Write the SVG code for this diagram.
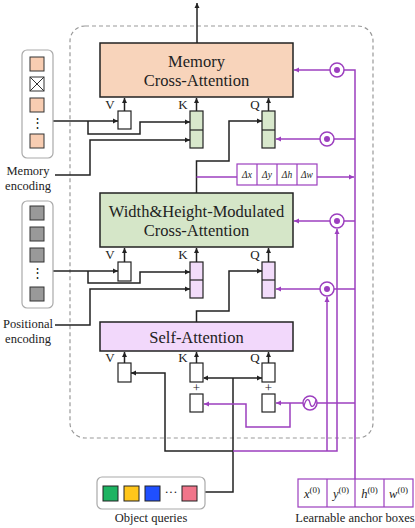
<svg xmlns="http://www.w3.org/2000/svg" width="415" height="528" viewBox="0 0 415 528" font-family="'Liberation Serif', 'Times New Roman', serif">
<defs>
<marker id="ab" markerWidth="6" markerHeight="6" refX="5" refY="3" orient="auto" markerUnits="userSpaceOnUse"><path d="M0,0.5 L5,3 L0,5.5 Z" fill="#222"/></marker>
<marker id="ap" markerWidth="6" markerHeight="6" refX="5" refY="3" orient="auto" markerUnits="userSpaceOnUse"><path d="M0,0.5 L5,3 L0,5.5 Z" fill="#9c3fbf"/></marker>
<marker id="abs" markerWidth="6" markerHeight="6" refX="1" refY="3" orient="auto" markerUnits="userSpaceOnUse"><path d="M5,0.5 L0,3 L5,5.5 Z" fill="#222"/></marker>
</defs>
<style>
text{font-family:'Liberation Serif','Times New Roman',serif;fill:#222}
.title{font-size:16.5px;text-anchor:middle}
.lbl{font-size:13px;text-anchor:middle}
.cap{font-size:12.5px;text-anchor:middle}
.d{font-size:9.5px;font-style:italic;text-anchor:middle}
.an{font-size:12.5px;font-style:italic;text-anchor:middle}
.bk{fill:none;stroke:#222;stroke-width:1.5}
.pp{fill:none;stroke:#9c3fbf;stroke-width:1.5}
.sm{fill:#fff;stroke:#222;stroke-width:1.2}
.cont{fill:#fff;stroke:#aaa;stroke-width:1.2}
</style>

<rect x="70" y="26" width="303" height="412" rx="15" fill="none" stroke="#999" stroke-width="1.2" stroke-dasharray="4,3"/>

<g id="connectors">
<line x1="197" y1="43" x2="197" y2="3" class="bk" marker-end="url(#ab)"/>
<line x1="124.5" y1="111" x2="124.5" y2="98" class="bk" marker-end="url(#ab)"/>
<line x1="196.5" y1="111" x2="196.5" y2="98" class="bk" marker-end="url(#ab)"/>
<line x1="268.5" y1="111" x2="268.5" y2="98" class="bk" marker-end="url(#ab)"/>
<path d="M53,121 H118" class="bk" marker-end="url(#ab)"/>
<path d="M88,121 V134 H140 V122 H190" class="bk" marker-end="url(#ab)"/>
<path d="M55,175 H90 V140 H190" class="bk" marker-end="url(#ab)"/>
<path d="M196.5,193 V161 H229 V121 H262" class="bk" marker-end="url(#ab)"/>
<line x1="124.5" y1="262" x2="124.5" y2="248" class="bk" marker-end="url(#ab)"/>
<line x1="196.5" y1="262" x2="196.5" y2="248" class="bk" marker-end="url(#ab)"/>
<line x1="268.5" y1="262" x2="268.5" y2="248" class="bk" marker-end="url(#ab)"/>
<path d="M53,271 H118" class="bk" marker-end="url(#ab)"/>
<path d="M88,271 V283 H140 V272 H190" class="bk" marker-end="url(#ab)"/>
<path d="M55,325 H90 V289 H190" class="bk" marker-end="url(#ab)"/>
<path d="M196.5,322 V311 H229 V271 H262" class="bk" marker-end="url(#ab)"/>
<line x1="124.5" y1="363" x2="124.5" y2="352" class="bk" marker-end="url(#ab)"/>
<line x1="196.5" y1="363" x2="196.5" y2="352" class="bk" marker-end="url(#ab)"/>
<line x1="268.5" y1="363" x2="268.5" y2="352" class="bk" marker-end="url(#ab)"/>
<path d="M204,378 H262" class="bk" marker-start="url(#abs)" marker-end="url(#ab)"/>
<path d="M205,492 H233 V378" class="bk"/>
<path d="M233,451 H165 V373 H131" class="bk" marker-end="url(#ab)"/>
<path d="M355,479 V70 H344" class="pp"/>
<line x1="330" y1="70" x2="294" y2="70" class="pp" marker-end="url(#ap)"/>
<path d="M355,139 H334" class="pp"/>
<line x1="320" y1="139" x2="276" y2="139" class="pp" marker-end="url(#ap)"/>
<path d="M355,221 H344" class="pp"/>
<line x1="330" y1="221" x2="294" y2="221" class="pp" marker-end="url(#ap)"/>
<path d="M355,289 H334" class="pp"/>
<line x1="320" y1="289" x2="276" y2="289" class="pp" marker-end="url(#ap)"/>
<path d="M196.5,177 H237" class="pp"/>
<line x1="317" y1="177" x2="354" y2="177" class="pp" marker-end="url(#ap)"/>
<path d="M233,451 H337 V229" class="pp" marker-end="url(#ap)"/>
<path d="M327,451 V297" class="pp" marker-end="url(#ap)"/>
<path d="M355,403 H317" class="pp"/>
<line x1="303" y1="403" x2="276" y2="403" class="pp" marker-end="url(#ap)"/>
<path d="M290,403 V427 H246 V404 H204" class="pp" marker-end="url(#ap)"/>
</g>

<g id="memory-encoding">
<rect x="22" y="50" width="31" height="108" rx="5" class="cont"/>
<rect x="30" y="57" width="14" height="14" fill="#f8cdb2" stroke="#333" stroke-width="1"/>
<rect x="30" y="77" width="14" height="14" fill="#fff" stroke="#333" stroke-width="1"/>
<path d="M30,77 L44,91 M44,77 L30,91" stroke="#333" stroke-width="1"/>
<rect x="30" y="98" width="14" height="14" fill="#f8cdb2" stroke="#333" stroke-width="1"/>
<text x="37" y="127" class="lbl" font-size="10">⋮</text>
<rect x="30" y="134" width="14" height="14" fill="#f8cdb2" stroke="#333" stroke-width="1"/>
<text x="28" y="175" class="cap">Memory</text>
<text x="28" y="190" class="cap">encoding</text>
</g>

<g id="positional-encoding">
<rect x="22" y="201" width="31" height="107" rx="5" class="cont"/>
<rect x="30" y="206" width="14" height="14" fill="#999" stroke="#333" stroke-width="1"/>
<rect x="30" y="227" width="14" height="14" fill="#999" stroke="#333" stroke-width="1"/>
<rect x="30" y="248" width="14" height="14" fill="#999" stroke="#333" stroke-width="1"/>
<text x="37" y="277" class="lbl" font-size="10">⋮</text>
<rect x="30" y="287" width="14" height="14" fill="#999" stroke="#333" stroke-width="1"/>
<text x="28" y="328" class="cap">Positional</text>
<text x="28" y="343" class="cap">encoding</text>
</g>

<g id="memory-cross-attention">
<rect x="100" y="43" width="193" height="54" fill="#f8d4bb" stroke="#222" stroke-width="1.5"/>
<text x="196.5" y="67" class="title">Memory</text>
<text x="196.5" y="86" class="title">Cross-Attention</text>
<rect x="118" y="111" width="13" height="18" class="sm"/>
<text x="110" y="109" class="lbl">V</text>
<rect x="190" y="111" width="13" height="37" fill="#d8e8cc" stroke="#222" stroke-width="1.2"/>
<line x1="190" y1="130" x2="203" y2="130" stroke="#222" stroke-width="1.2"/>
<text x="183" y="109" class="lbl">K</text>
<rect x="262" y="111" width="13" height="37" fill="#d8e8cc" stroke="#222" stroke-width="1.2"/>
<line x1="262" y1="130" x2="275" y2="130" stroke="#222" stroke-width="1.2"/>
<text x="255" y="109" class="lbl">Q</text>
</g>

<g id="delta-boxes">
<rect x="237" y="164" width="80" height="21" fill="#fff" stroke="#9c3fbf" stroke-width="1.2"/>
<path d="M257,164 V185 M277,164 V185 M297,164 V185" stroke="#9c3fbf" stroke-width="1.2"/>
<text x="247" y="178" class="d">Δx</text>
<text x="267" y="178" class="d">Δy</text>
<text x="287" y="178" class="d">Δh</text>
<text x="307" y="178" class="d">Δw</text>
</g>

<g id="wh-cross-attention">
<rect x="100" y="193" width="193" height="54" fill="#d5e6c8" stroke="#222" stroke-width="1.5"/>
<text x="196.5" y="217" class="title">Width&amp;Height-Modulated</text>
<text x="196.5" y="236" class="title">Cross-Attention</text>
<rect x="118" y="262" width="13" height="19" class="sm"/>
<text x="110" y="259" class="lbl">V</text>
<rect x="190" y="262" width="13" height="36" fill="#f2dcfa" stroke="#222" stroke-width="1.2"/>
<line x1="190" y1="280" x2="203" y2="280" stroke="#222" stroke-width="1.2"/>
<text x="183" y="259" class="lbl">K</text>
<rect x="262" y="262" width="13" height="36" fill="#f2dcfa" stroke="#222" stroke-width="1.2"/>
<line x1="262" y1="280" x2="275" y2="280" stroke="#222" stroke-width="1.2"/>
<text x="255" y="259" class="lbl">Q</text>
</g>

<g id="self-attention">
<rect x="100" y="322" width="193" height="29" fill="#f2d8fb" stroke="#222" stroke-width="1.5"/>
<text x="196.5" y="343" class="title">Self-Attention</text>
<rect x="118" y="363" width="13" height="19" class="sm"/>
<text x="110" y="362" class="lbl">V</text>
<rect x="190" y="363" width="13" height="19" class="sm"/>
<text x="183" y="362" class="lbl">K</text>
<rect x="262" y="363" width="13" height="19" class="sm"/>
<text x="255" y="362" class="lbl">Q</text>
<text x="196.5" y="392" class="lbl" font-size="10">+</text>
<text x="268.5" y="392" class="lbl" font-size="10">+</text>
<rect x="190" y="394" width="13" height="18" class="sm"/>
<rect x="262" y="394" width="13" height="18" class="sm"/>
</g>

<g id="ops">
<circle cx="337" cy="70" r="7" fill="#fff" stroke="#9c3fbf" stroke-width="1.5"/><circle cx="337" cy="70" r="3" fill="#9c3fbf"/>
<circle cx="327" cy="139" r="7" fill="#fff" stroke="#9c3fbf" stroke-width="1.5"/><circle cx="327" cy="139" r="3" fill="#9c3fbf"/>
<circle cx="337" cy="221" r="7" fill="#fff" stroke="#9c3fbf" stroke-width="1.5"/><circle cx="337" cy="221" r="3" fill="#9c3fbf"/>
<circle cx="327" cy="289" r="7" fill="#fff" stroke="#9c3fbf" stroke-width="1.5"/><circle cx="327" cy="289" r="3" fill="#9c3fbf"/>
<circle cx="310" cy="403" r="7" fill="#fff" stroke="#9c3fbf" stroke-width="1.5"/>
<path d="M304,406 C306,398 309,398 310,403 C311,408 314,408 316,400" fill="none" stroke="#9c3fbf" stroke-width="1.3"/>
</g>

<g id="anchor-boxes">
<rect x="298" y="479" width="115" height="28" fill="#fff" stroke="#9c3fbf" stroke-width="1.2"/>
<path d="M327,479 V507 M355,479 V507 M384,479 V507" stroke="#9c3fbf" stroke-width="1.2"/>
<text x="312" y="498" class="an">x<tspan font-size="9" dy="-5" font-style="normal">(0)</tspan></text>
<text x="341" y="498" class="an">y<tspan font-size="9" dy="-5" font-style="normal">(0)</tspan></text>
<text x="369.5" y="498" class="an">h<tspan font-size="9" dy="-5" font-style="normal">(0)</tspan></text>
<text x="398.5" y="498" class="an">w<tspan font-size="9" dy="-5" font-style="normal">(0)</tspan></text>
<text x="355" y="522" class="cap">Learnable anchor boxes</text>
</g>

<g id="object-queries">
<rect x="97" y="477" width="108" height="32" rx="5" class="cont"/>
<rect x="103" y="486" width="15" height="15" fill="#1db462" stroke="#222" stroke-width="1"/>
<rect x="124" y="486" width="15" height="15" fill="#ffc61a" stroke="#222" stroke-width="1"/>
<rect x="145" y="486" width="15" height="15" fill="#1f4fff" stroke="#222" stroke-width="1"/>
<text x="171" y="496" class="lbl" font-size="10">···</text>
<rect x="182" y="486" width="15" height="15" fill="#f0758a" stroke="#222" stroke-width="1"/>
<text x="151" y="522" class="cap">Object queries</text>
</g>
</svg>
